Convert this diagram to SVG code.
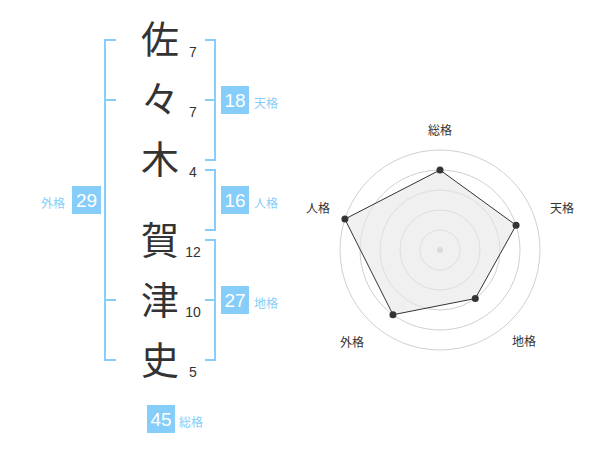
<svg xmlns="http://www.w3.org/2000/svg" width="600" height="470" viewBox="0 0 600 470">
<style>
.ch{font-family:"Noto Sans CJK JP","Noto Sans CJK SC",sans-serif;font-size:38px;fill:#333;text-anchor:middle}
.st{font-family:"Liberation Sans",Arial,sans-serif;font-size:14px;fill:#333;text-anchor:middle}
.br{fill:none;stroke:#86cdf9;stroke-width:2}
.box{fill:#86cdf9}
.bn{font-family:"Liberation Sans",Arial,sans-serif;font-size:19px;fill:#fff;text-anchor:middle}
.bl{font-family:"Noto Sans CJK JP","Noto Sans CJK SC",sans-serif;font-size:12px;fill:#86cdf9}
.ring{fill:none;stroke:#d0d0d0;stroke-width:1}
.rl{font-family:"Noto Sans CJK JP","Noto Sans CJK SC",sans-serif;font-size:12px;fill:#333;text-anchor:middle}
.pt{fill:#333}
</style>
<g id="chars">
<text class="ch" x="160" y="53">佐</text>
<text class="ch" x="160" y="113">々</text>
<text class="ch" x="160" y="173">木</text>
<text class="ch" x="160" y="254">賀</text>
<text class="ch" x="160" y="314">津</text>
<text class="ch" x="160" y="374">史</text>
</g>
<g id="strokes">
<text class="st" x="193" y="57">7</text>
<text class="st" x="193" y="117">7</text>
<text class="st" x="193" y="177">4</text>
<text class="st" x="193" y="257">12</text>
<text class="st" x="193" y="317">10</text>
<text class="st" x="193" y="377">5</text>
</g>
<g id="connectors">
<path class="br" d="M116,40 H105 V360 H116 M105,100 H116 M105,300 H116"/>
<path class="br" d="M205,40 H215 V160 H205 M215,100 H205"/>
<path class="br" d="M205,170 H215 V230 H205"/>
<path class="br" d="M205,240 H215 V360 H205 M215,300 H205"/>
</g>
<g id="tenkaku">
<rect class="box" x="221" y="86" width="28" height="28"/>
<text class="bn" x="235" y="107">18</text>
<text class="bl" x="254" y="108">天格</text>
</g>
<g id="jinkaku">
<rect class="box" x="221" y="186" width="28" height="28"/>
<text class="bn" x="235" y="207">16</text>
<text class="bl" x="254" y="208">人格</text>
</g>
<g id="chikaku">
<rect class="box" x="221" y="286" width="28" height="28"/>
<text class="bn" x="235" y="307">27</text>
<text class="bl" x="254" y="308">地格</text>
</g>
<g id="gaikaku">
<rect class="box" x="72" y="186" width="29" height="28"/>
<text class="bn" x="86.5" y="207">29</text>
<text class="bl" x="41" y="208">外格</text>
</g>
<g id="soukaku">
<rect class="box" x="147" y="405" width="28" height="28"/>
<text class="bn" x="161" y="426">45</text>
<text class="bl" x="179" y="427">総格</text>
</g>
<g id="radar">
<circle class="ring" cx="440" cy="250" r="20"/>
<circle class="ring" cx="440" cy="250" r="40"/>
<circle class="ring" cx="440" cy="250" r="60"/>
<circle class="ring" cx="440" cy="250" r="80"/>
<circle class="ring" cx="440" cy="250" r="100"/>
<circle cx="440" cy="250" r="3" fill="#c8c8c8"/>
<polygon points="440,170 516.08,225.28 475.27,298.54 392.98,314.72 344.89,219.1" fill="#e6e6e6" fill-opacity="0.6" stroke="#333" stroke-width="1"/>
<circle class="pt" cx="440" cy="170" r="3.5"/>
<circle class="pt" cx="516.08" cy="225.28" r="3.5"/>
<circle class="pt" cx="475.27" cy="298.54" r="3.5"/>
<circle class="pt" cx="392.98" cy="314.72" r="3.5"/>
<circle class="pt" cx="344.89" cy="219.1" r="3.5"/>
<text class="rl" x="440" y="135">総格</text>
<text class="rl" x="562" y="213">天格</text>
<text class="rl" x="524" y="346">地格</text>
<text class="rl" x="352" y="347">外格</text>
<text class="rl" x="318" y="213">人格</text>
</g>
</svg>
